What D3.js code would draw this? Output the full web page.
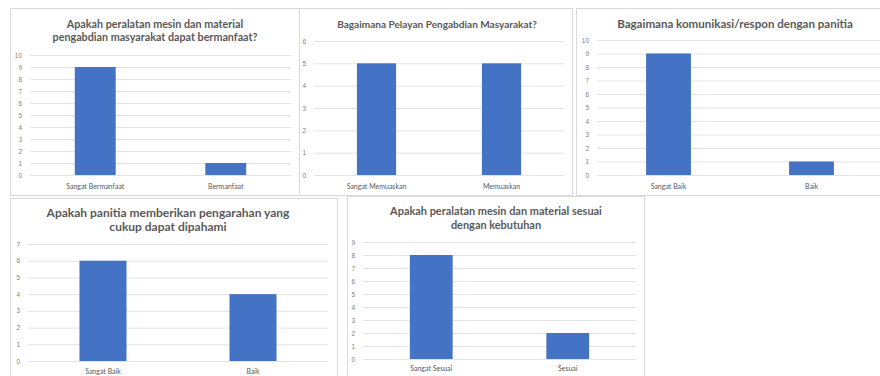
<!DOCTYPE html>
<html>
<head>
<meta charset="utf-8">
<script src="https://cdn.jsdelivr.net/npm/d3@7"></script>
<style>
  body { margin: 0; background: #fff; }
  svg { display: block; font-family: Lato, "Open Sans", sans-serif; }
</style>
</head>
<body>
<div id="chart"></div>
<script>
// data for each of the five survey questions
var titles = [
  ["Apakah peralatan mesin dan material", "pengabdian masyarakat dapat bermanfaat?"],
  ["Bagaimana Pelayan Pengabdian Masyarakat?"],
  ["Bagaimana komunikasi/respon dengan panitia"],
  ["Apakah panitia memberikan pengarahan yang", "cukup dapat dipahami"],
  ["Apakah peralatan mesin dan material sesuai", "dengan kebutuhan"]
];
var categories = [
  ["Sangat Bermanfaat", "Bermanfaat"],
  ["Sangat Memuaskan", "Memuaskan"],
  ["Sangat Baik", "Baik"],
  ["Sangat Baik", "Baik"],
  ["Sangat Sesuai", "Sesuai"]
];
var values = [
  [9, 1],
  [5, 5],
  [9, 1],
  [6, 4],
  [8, 2]
];
var axisMax = [10, 6, 10, 7, 9];

// layout of each panel (box, plot area, title)
var layout = [
  { box: [10, 8, 299, 195], px: [30, 291], py: [55, 175], ty: 28, tw: 205, lh: 13, ly: 189, cx: 155 },
  { box: [299, 8, 572, 195], px: [314, 564], py: [41, 175], ty: 28, tw: 200, lh: 13, ly: 189, cx: 437 },
  { box: [576, 8, 892, 195], px: [597, 883], py: [40, 175], ty: 28, tw: 236, lh: 13, ly: 189, cx: 735 },
  { box: [10, 198, 337, 390], px: [28, 328], py: [244, 361], ty: 217, tw: 243, lh: 14, ly: 374, cx: 168 },
  { box: [347, 196, 644, 390], px: [363, 636], py: [242, 359], ty: 215, tw: 212, lh: 14, ly: 371, cx: 496 }
];

var W = 880, H = 376;
var svg = d3.select("#chart")
  .append("svg")
  .attr("width", W)
  .attr("height", H);

function drawPanel(i) {
  var L = layout[i];
  var g = svg.append("g");

  // panel border
  g.append("rect")
    .attr("x", L.box[0] + 0.5)
    .attr("y", L.box[1] + 0.5)
    .attr("width", L.box[2] - L.box[0])
    .attr("height", L.box[3] - L.box[1])
    .attr("fill", "#fff")
    .attr("stroke", "#d9d9d9")
    .attr("stroke-width", 1);

  var x = d3.scaleBand()
    .domain(categories[i])
    .range(L.px)
    .paddingInner(0)
    .paddingOuter(0);

  var y = d3.scaleLinear()
    .domain([0, axisMax[i]])
    .range([L.py[1], L.py[0]]);

  // gridlines + tick labels
  var yAxis = g.append("g")
    .attr("transform", "translate(" + L.px[0] + ",0)")
    .call(d3.axisLeft(y)
      .ticks(axisMax[i])
      .tickSize(-(L.px[1] - L.px[0]))
      .tickPadding(8)
      .tickFormat(d3.format("d")));
  yAxis.select(".domain").remove();
  yAxis.selectAll(".tick line")
    .attr("stroke", "#d9d9d9")
    .attr("stroke-width", 0.75);
  yAxis.selectAll(".tick text")
    .attr("fill", "#7f7f7f")
    .style("font-size", "6.5px");

  // bars (gap width ~219%)
  var barW = x.bandwidth() / 3.19;
  g.selectAll("rect.bar")
    .data(values[i])
    .enter()
    .append("rect")
    .attr("class", "bar")
    .attr("x", function(d, j) { return x(categories[i][j]) + (x.bandwidth() - barW) / 2; })
    .attr("y", function(d) { return y(d); })
    .attr("width", barW)
    .attr("height", function(d) { return y(0) - y(d); })
    .attr("fill", "#4472c4");

  // category labels
  g.selectAll("text.cat")
    .data(categories[i])
    .enter()
    .append("text")
    .attr("class", "cat")
    .attr("x", function(d) { return x(d) + x.bandwidth() / 2; })
    .attr("y", L.ly)
    .attr("text-anchor", "middle")
    .attr("fill", "#595959")
    .style("font-size", "7px")
    .text(function(d) { return d; });

  // title, sized so its widest line matches the reference
  var t = g.append("text")
    .attr("text-anchor", "middle")
    .attr("fill", "#595959")
    .style("font-weight", "700")
    .style("font-size", "12px");
  titles[i].forEach(function(line, k) {
    t.append("tspan")
      .attr("x", L.cx)
      .attr("y", L.ty + k * L.lh)
      .text(line);
  });
  var widest = d3.max(t.selectAll("tspan").nodes(), function(n) {
    return n.getComputedTextLength();
  });
  t.style("font-size", (12 * L.tw / widest).toFixed(2) + "px");
}

for (var i = 0; i < titles.length; i++) {
  drawPanel(i);
}
</script>
</body>
</html>
